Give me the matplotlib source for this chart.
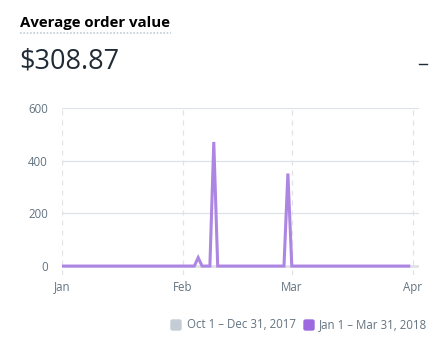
import matplotlib
matplotlib.use("Agg")
import matplotlib.pyplot as plt
from matplotlib.patches import FancyBboxPatch

plt.rcParams['font.family'] = ['Open Sans', 'DejaVu Sans']

# Data
title = "Average order value"
total = "$308.87"
month_labels = ["Jan", "Feb", "Mar", "Apr"]
month_days = [0, 31, 59, 90]
y_ticks = [0, 200, 400, 600]
prev_label = "Oct 1 \u2013 Dec 31, 2017"
curr_label = "Jan 1 \u2013 Mar 31, 2018"

curr_values = [
    0, 0, 0, 0, 0, 0, 0, 0, 0, 0,
    0, 0, 0, 0, 0, 0, 0, 0, 0, 0,
    0, 0, 0, 0, 0, 0, 0, 0, 0, 0,
    0, 0, 0, 0, 0, 32, 0, 0, 0, 472,
    0, 0, 0, 0, 0, 0, 0, 0, 0, 0,
    0, 0, 0, 0, 0, 0, 0, 0, 352, 0,
    0, 0, 0, 0, 0, 0, 0, 0, 0, 0,
    0, 0, 0, 0, 0, 0, 0, 0, 0, 0,
    0, 0, 0, 0, 0, 0, 0, 0, 0, 0,
]
prev_values = [
    0, 0, 0, 0, 0, 0, 0, 0, 0, 0,
    0, 0, 0, 0, 0, 0, 0, 0, 0, 0,
    0, 0, 0, 0, 0, 0, 0, 0, 0, 0,
    0, 0, 0, 0, 0, 0, 0, 0, 0, 0,
    0, 0, 0, 0, 0, 0, 0, 0, 0, 0,
    0, 0, 0, 0, 0, 0, 0, 0, 0, 0,
    0, 0, 0, 0, 0, 0, 0, 0, 0, 0,
    0, 0, 0, 0, 0, 0, 0, 0, 0, 0,
    0, 0, 0, 0, 0, 0, 0, 0, 0, 0,
    0, 0,
]

W, H = 441, 342
fig = plt.figure(figsize=(W / 100, H / 100), dpi=100)
fig.patch.set_facecolor("white")

ax = fig.add_axes([61.7 / W, 1 - 275 / H, (419.3 - 61.7) / W, (275 - 108.3) / H])
ax.set_facecolor("white")

grey = "#c4cdd5"
purple_line = "#ad85e2"
purple_leg = "#9c6ade"
text_grey = "#637381"

ax.plot(range(len(prev_values)), prev_values, color="#dfe3e8", lw=2.0,
        solid_joinstyle="round", zorder=2)
ax.plot(range(len(curr_values)), curr_values, color=purple_line, lw=2.2,
        solid_joinstyle="miter", zorder=3)

ax.set_xlim(0, 91.7)
ax.set_ylim(-34, 600)
ax.set_yticks(y_ticks)
ax.set_xticks(month_days)
ax.set_xticklabels(month_labels)

for y in y_ticks:
    ax.axhline(y, color="#dfe3e8", lw=0.9, zorder=1)
for x in month_days:
    ax.axvline(x, color="#dfe3e8", lw=0.9, ls=(0, (4, 4)), zorder=1)

for s in ax.spines.values():
    s.set_visible(False)
ax.tick_params(axis="both", length=0, labelsize=8.3, colors=text_grey)
ax.tick_params(axis="y", pad=10)
ax.tick_params(axis="x", pad=4)

# Header
fig.text(20 / W, 1 - 23 / H, title, fontsize=10.8, fontweight="bold",
         color="#000000", ha="left", va="center")
fig.add_artist(plt.Line2D([20 / W, 171 / W], [1 - 33 / H, 1 - 33 / H],
                          color="#c4cdd5", lw=1.2, ls=(0, (1, 1))))
fig.text(19 / W, 1 - 62 / H, total, fontsize=19.5, color="#212b36",
         ha="left", va="center")
fig.add_artist(plt.Line2D([419 / W, 426.5 / W], [1 - 63.7 / H, 1 - 63.7 / H],
                          color="#212b36", lw=1.0))

# Legend
ly = 1 - 325 / H
fig.add_artist(FancyBboxPatch((171 / W, 1 - 330 / H), 10 / W, 10 / H,
                              boxstyle="round,pad=0,rounding_size=0.004",
                              color=grey, transform=fig.transFigure))
fig.text(187 / W, ly, prev_label, fontsize=8.3, color=text_grey,
         ha="left", va="center")
fig.add_artist(FancyBboxPatch((304 / W, 1 - 330 / H), 10 / W, 10 / H,
                              boxstyle="round,pad=0,rounding_size=0.004",
                              color=purple_leg, transform=fig.transFigure))
fig.text(319 / W, ly, curr_label, fontsize=8.3, color=text_grey,
         ha="left", va="center")

fig.savefig("out.png", dpi=100)
